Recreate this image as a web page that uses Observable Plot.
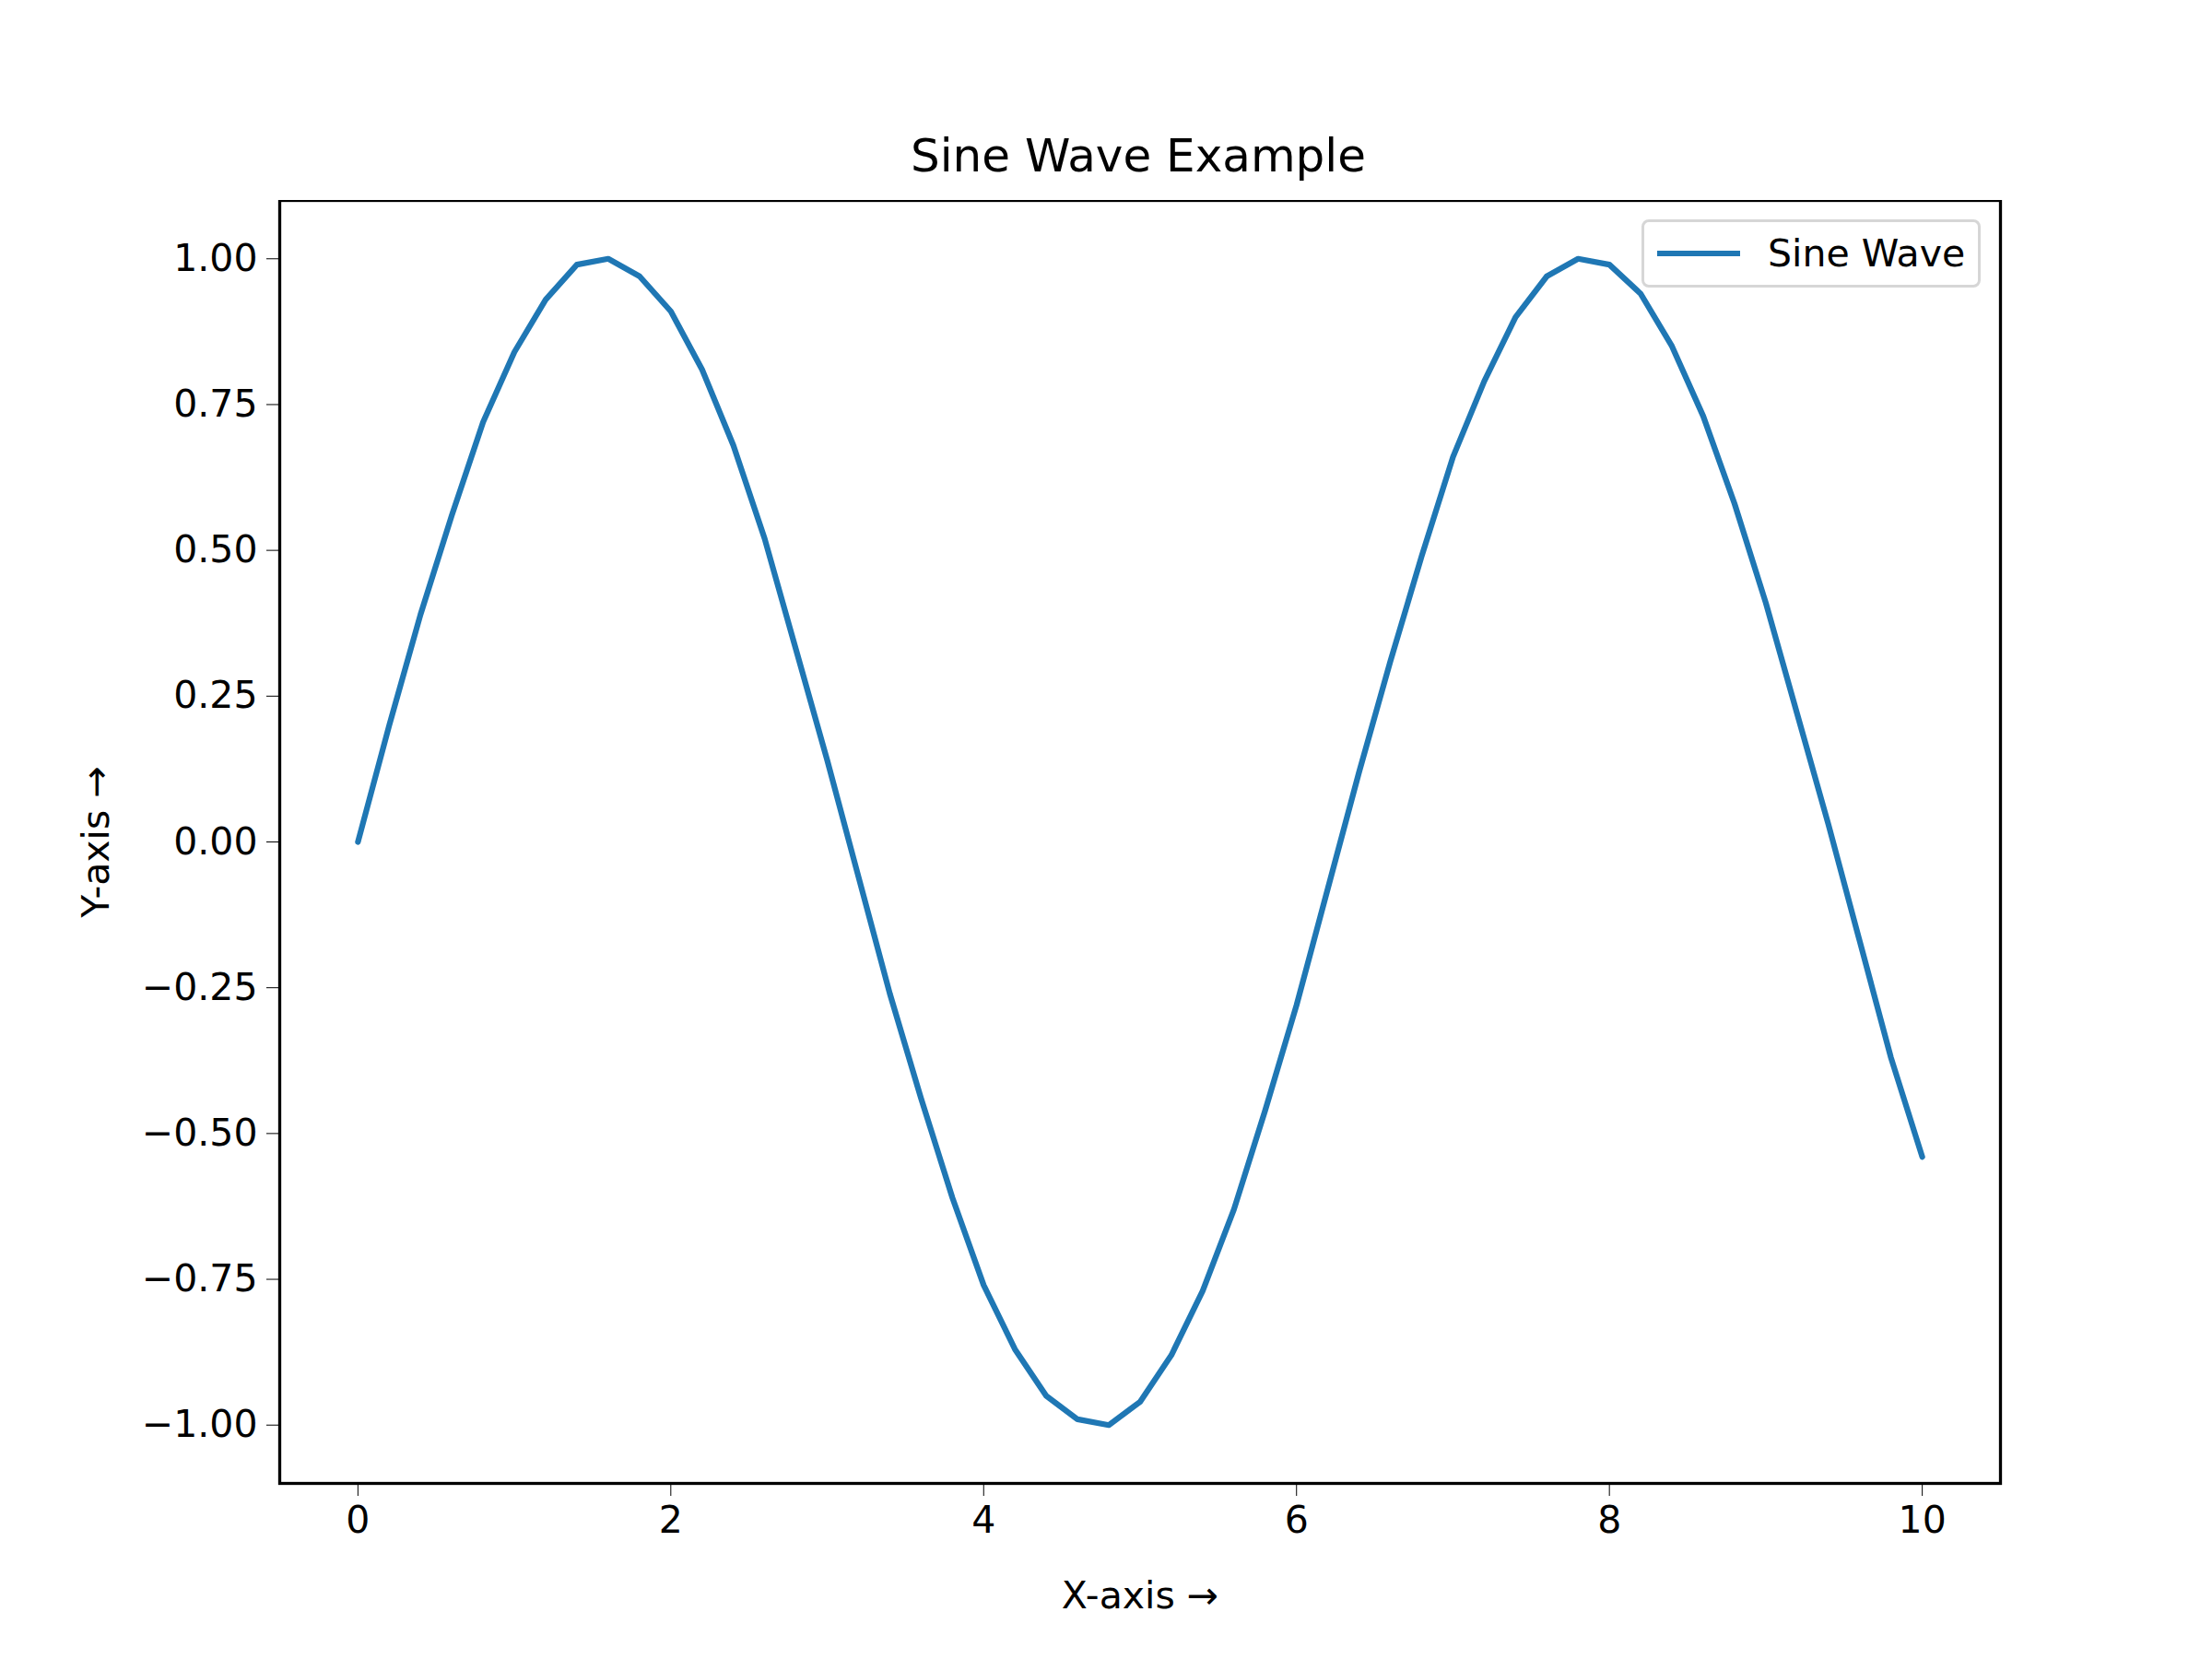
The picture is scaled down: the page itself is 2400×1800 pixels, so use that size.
<!DOCTYPE html>
<html>
<head>
<meta charset="utf-8">
<script src="https://cdn.jsdelivr.net/npm/d3@7"></script>
<script src="https://cdn.jsdelivr.net/npm/@observablehq/plot@0.6"></script>
<style>
  body { margin: 0; background: #fff; font-family: "DejaVu Sans", sans-serif; }
  #wrap { position: relative; width: 2400px; height: 1800px; }
  #title { height: 217px; box-sizing: border-box; padding-top: 140px; text-align: center; font-size: 50px; padding-left: 70px; }
  #legend { position: absolute; left: 1781px; top: 238px; width: 368px; height: 74px; box-sizing: border-box;
    border: 3px solid #d6d6d6; border-radius: 8px; background: rgba(255,255,255,0.8);
    display: flex; align-items: center; font-size: 41px; }
  #legend .sw { width: 90px; height: 6px; background: #1f77b4; margin: 0 30px 0 14px; }
</style>
</head>
<body>
<div id="wrap">
  <div id="title">Sine Wave Example</div>
  <div id="chart"></div>
  <div id="legend"><div class="sw"></div>Sine Wave</div>
</div>
<script>
const xs = [0, 0.2, 0.4, 0.6, 0.8, 1.0, 1.2, 1.4, 1.6, 1.8, 2.0, 2.2, 2.4, 2.6, 2.8, 3.0, 3.2, 3.4, 3.6, 3.8,
  4.0, 4.2, 4.4, 4.6, 4.8, 5.0, 5.2, 5.4, 5.6, 5.8, 6.0, 6.2, 6.4, 6.6, 6.8, 7.0, 7.2, 7.4, 7.6, 7.8,
  8.0, 8.2, 8.4, 8.6, 8.8, 9.0, 9.2, 9.4, 9.6, 9.8, 10.0]
const ys = [0, 0.20, 0.39, 0.56, 0.72, 0.84, 0.93, 0.99, 1.00, 0.97, 0.91, 0.81, 0.68, 0.52, 0.33, 0.14, -0.06, -0.26, -0.44, -0.61,
  -0.76, -0.87, -0.95, -0.99, -1.00, -0.96, -0.88, -0.77, -0.63, -0.46, -0.28, -0.08, 0.12, 0.31, 0.49, 0.66, 0.79, 0.90, 0.97, 1.00,
  0.99, 0.94, 0.85, 0.73, 0.58, 0.41, 0.22, 0.03, -0.17, -0.37, -0.54]
const xTicks = [0, 2, 4, 6, 8, 10]
const yTicks = [-1, -0.75, -0.5, -0.25, 0, 0.25, 0.5, 0.75, 1]

const data = xs.map((x, i) => ({x, y: ys[i]}))

let chart = Plot.plot({
  width: 2400,
  height: 1583,
  marginTop: 0,
  marginLeft: 303,
  marginRight: 230,
  marginBottom: 191,
  style: {fontSize: '41px', fontFamily: '"DejaVu Sans", sans-serif', color: '#000', background: '#fff'},
  x: {domain: [-0.5, 10.5], ticks: xTicks, tickSize: 14, tickPadding: 10, label: 'X-axis', labelAnchor: 'center', labelOffset: 135},
  y: {domain: [-1.1, 1.1], ticks: yTicks, tickFormat: d3.format('.2f'), tickSize: 14, tickPadding: 10, label: 'Y-axis', labelAnchor: 'center', labelOffset: 215},
  marks: [
    Plot.line(data, {x: 'x', y: 'y', stroke: '#1f77b4', strokeWidth: 6.25}),
    Plot.frame({stroke: '#000', strokeWidth: 3.3})
  ]
})

d3.select('#chart').append(() => chart)
</script>
</body>
</html>
